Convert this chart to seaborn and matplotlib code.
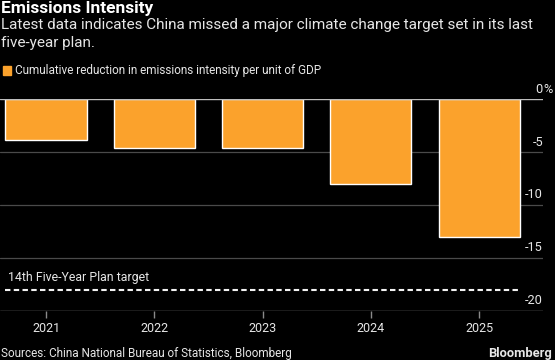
import matplotlib
matplotlib.use("Agg")
import matplotlib.pyplot as plt
from matplotlib import font_manager as fm
import seaborn as sns
import pandas as pd

# ---- data ----
years = ["2021", "2022", "2023", "2024", "2025"]
reduction = [-3.8, -4.6, -4.6, -8.0, -13.0]
target = -18.0
yticks = [0, -5, -10, -15, -20]

title = "Emissions Intensity"
subtitle = "Latest data indicates China missed a major climate change target set in its last\nfive-year plan."
legend_label = "Cumulative reduction in emissions intensity per unit of GDP"
target_label = "14th Five-Year Plan target"
source = "Sources: China National Bureau of Statistics, Bloomberg"

ORANGE = "#FBA22C"
BG = "#000000"
TXT = "#E6E6E6"

sns.set_style("dark")
names = {f.name for f in fm.fontManager.ttflist}
FONT = "Liberation Sans Narrow" if "Liberation Sans Narrow" in names else "Roboto"
plt.rcParams["font.family"] = [FONT, "DejaVu Sans"]

W, H = 555, 360
fig = plt.figure(figsize=(W / 100, H / 100), dpi=100, facecolor=BG)

def px(x, y):
    return x / W, 1 - y / H

left, right, top_px, bot_px = 0, 543, 99.3, 311
ax = fig.add_axes([left / W, 1 - bot_px / H, (right - left) / W, (bot_px - top_px) / H])
ax.set_facecolor(BG)

df = pd.DataFrame({"year": years, "value": reduction})
sns.barplot(data=df, x="year", y="value", color=ORANGE, saturation=1,
            width=0.75, ax=ax, zorder=3)

ax.set_xlim(-0.425, 4.59)
ax.set_ylim(-20, 0)

for s in ax.spines.values():
    s.set_visible(False)
ax.grid(False)

# gridlines
for v in yticks:
    if v == 0:
        ax.axhline(v, color="#BDBDBD", lw=1.0, zorder=4)
    elif v == -20:
        ax.axhline(v, color="#8A8A8A", lw=1.0, zorder=2)
    else:
        ax.axhline(v, color="#4A4A4A", lw=0.9, zorder=1)

# y labels on the right, above gridlines
for v in yticks:
    lab = "0" if v == 0 else f"{v}"
    ax.text(1.0, v + 0.35, lab, transform=ax.get_yaxis_transform(), ha="right",
            va="bottom", color=TXT, fontsize=9.2, clip_on=False)
    if v == 0:
        ax.text(1.0, v + 0.35, "%", transform=ax.get_yaxis_transform(), ha="left",
                va="bottom", color=TXT, fontsize=9.2, clip_on=False)
ax.set_yticks([])

ax.set_xlabel("")
ax.set_ylabel("")
ax.tick_params(axis="x", colors="#8A8A8A", length=5, width=1, direction="out",
               labelcolor=TXT, labelsize=9, pad=3, bottom=True)

# target line
bw = 0.75
ax.hlines(target, 0 - bw / 2, len(years) - 1 + bw / 2, colors="#F2F2F2",
          linestyles=(0, (2.6, 1.6)), lw=1.5, zorder=5)
ax.text(0 - bw / 2 + 0.02, target + 0.55, target_label, color=TXT, fontsize=8.9,
        ha="left", va="bottom")

# titles
fig.text(*px(1, 9), title, color="white", fontsize=12.5, fontweight="bold",
         ha="left", va="center")
fig.text(*px(1, 18), subtitle, color=TXT, fontsize=11.0, ha="left", va="top",
         linespacing=1.32)

# legend
fig.patches.append(plt.Rectangle(px(3, 74.5), 7.5 / W, 8 / H, color=ORANGE,
                                 transform=fig.transFigure, figure=fig))
fig.text(*px(15, 70.5), legend_label, color=TXT, fontsize=8.5, ha="left", va="center")

# footer
fig.text(*px(1, 353), source, color=TXT, fontsize=8.5, ha="left", va="center")
fig.text(*px(552, 353), "Bloomberg", color=TXT, fontsize=9.3, fontweight="bold",
         ha="right", va="center")

fig.savefig("out.png", dpi=100, facecolor=BG)
